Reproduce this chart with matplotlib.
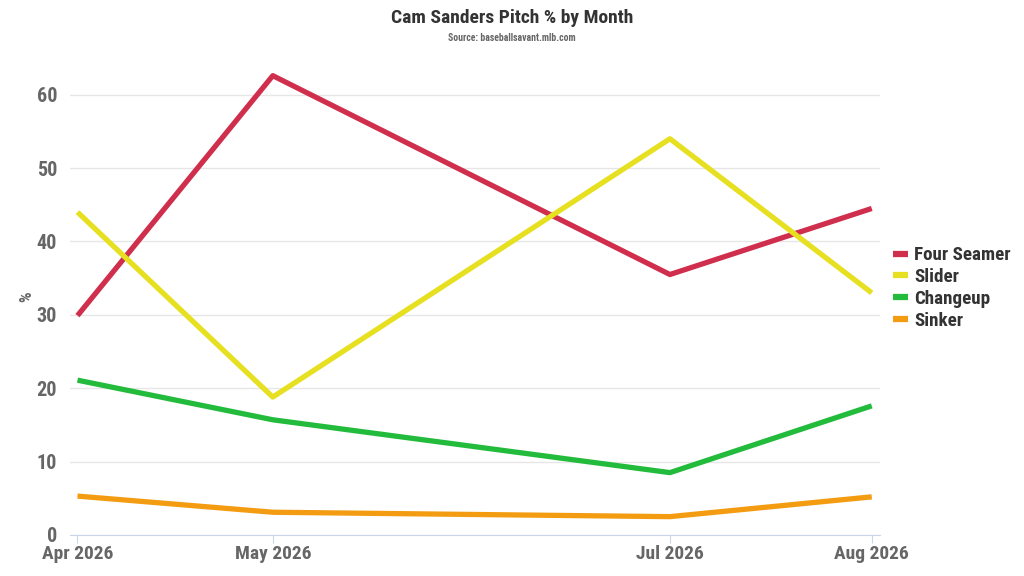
import matplotlib
matplotlib.use('Agg')
import matplotlib.pyplot as plt
from matplotlib import font_manager
import datetime as dt

names = set(f.name for f in font_manager.fontManager.ttflist)

# Data
months = [dt.datetime(2026, 4, 1), dt.datetime(2026, 5, 1), dt.datetime(2026, 7, 1), dt.datetime(2026, 8, 1)]
month_labels = ['Apr 2026', 'May 2026', 'Jul 2026', 'Aug 2026']
four_seamer = [29.9, 62.6, 35.5, 44.5]
slider = [44.0, 18.8, 54.0, 33.0]
changeup = [21.1, 15.7, 8.5, 17.6]
sinker = [5.3, 3.1, 2.5, 5.2]

series = [
    ('Four Seamer', four_seamer, '#cf2f4d'),
    ('Slider', slider, '#e6e021'),
    ('Changeup', changeup, '#23bb3c'),
    ('Sinker', sinker, '#f39c12'),
]

font = 'Roboto Condensed' if 'Roboto Condensed' in names else 'Roboto'
plt.rcParams['font.family'] = [font, 'DejaVu Sans']

fig = plt.figure(figsize=(10.24, 5.76), dpi=100)
ax = fig.add_axes([0.068, 0.0712, 0.791, 0.828])

for name, vals, color in series:
    ax.plot(months, vals, color=color, lw=3.8, label=name, solid_capstyle='butt')

ax.set_xlim(dt.datetime(2026, 3, 30, 19), dt.datetime(2026, 8, 2, 5))
ax.set_ylim(0, 65)
ax.set_yticks([0, 10, 20, 30, 40, 50, 60])
ax.set_xticks(months)
ax.set_xticklabels(month_labels)

ax.grid(axis='y', color='#e6e6e6', lw=1)
ax.set_axisbelow(True)
for s in ['top', 'right', 'left']:
    ax.spines[s].set_visible(False)
ax.spines['bottom'].set_color('#ccd6eb')
ax.tick_params(axis='y', length=0, pad=9, labelsize=14.5, labelcolor='#666666')
ax.tick_params(axis='x', length=6, color='#ccd6eb', pad=1, labelsize=14, labelcolor='#666666')
for lab in ax.get_xticklabels() + ax.get_yticklabels():
    lab.set_fontweight('bold')

ax.set_ylabel('%', fontsize=12, color='#666666', fontweight='bold', labelpad=2)

fig.text(0.5, 0.968, 'Cam Sanders Pitch % by Month', ha='center', va='center',
         fontsize=14, fontweight='bold', color='#333333')
fig.text(0.5, 0.934, 'Source: baseballsavant.mlb.com', ha='center', va='center',
         fontsize=7, fontweight='bold', color='#666666')

leg = ax.legend(loc='center left', bbox_to_anchor=(1.0, 0.518), frameon=False,
                handlelength=0.75, handletextpad=0.35, labelspacing=0.2,
                borderpad=0.0, borderaxespad=0.72,
                prop={'weight': 'bold', 'size': 13.7})
for t in leg.get_texts():
    t.set_color('#333333')
for h in leg.get_lines():
    h.set_linewidth(4.5)

fig.savefig('out.png', dpi=100)
